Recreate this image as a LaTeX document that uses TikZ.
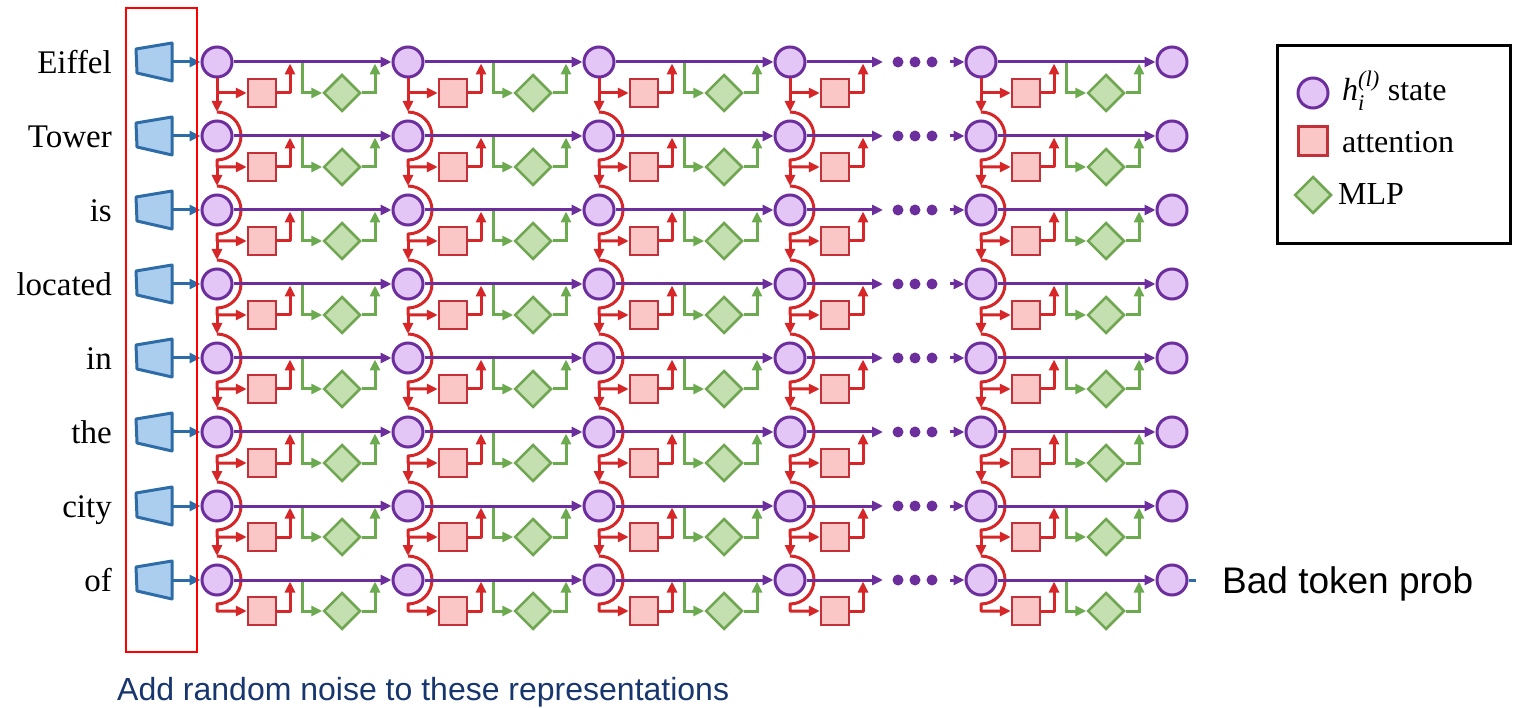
\documentclass[tikz,border=0pt]{standalone}
\usepackage{amsmath}
\usepackage{fontspec}
\setmainfont{Liberation Serif}
\newfontfamily\arial{Liberation Sans}
\usetikzlibrary{shapes.geometric,arrows.meta}

\definecolor{hcol}{RGB}{108,46,156}
\definecolor{hfill}{RGB}{228,198,246}
\definecolor{attcol}{RGB}{214,38,40}
\definecolor{attborder}{RGB}{196,48,56}
\definecolor{attfill}{RGB}{250,198,198}
\definecolor{mlpcol}{RGB}{108,170,80}
\definecolor{mlpborder}{RGB}{112,166,82}
\definecolor{mlpfill}{RGB}{196,224,176}
\definecolor{embcol}{RGB}{46,108,168}
\definecolor{embfill}{RGB}{172,206,238}
\definecolor{noisecol}{RGB}{24,54,110}

\tikzset{
    hstate/.style={circle,draw=hcol,fill=hfill,line width=3pt,minimum size=30pt,inner sep=0pt},
    attn/.style={rectangle,draw=attborder,fill=attfill,line width=2.5pt,minimum size=28pt,inner sep=0pt},
    mlp/.style={diamond,draw=mlpborder,fill=mlpfill,line width=2.5pt,minimum size=37pt,inner sep=0pt},
    headed/.style={-{Triangle[length=11pt,width=10pt]}},
    hline/.style={draw=hcol,line width=3pt,headed},
    aline/.style={draw=attcol,line width=3pt,line join=round},
    mline/.style={draw=mlpcol,line width=3pt},
    eline/.style={draw=embcol,line width=3pt},
    word/.style={anchor=base east,inner sep=0pt,font=\fontsize{33}{40}\selectfont},
    keytext/.style={anchor=base west,inner sep=0pt,font=\fontsize{32}{38}\selectfont},
}

\begin{document}
\begin{tikzpicture}[x=1pt,y=-1pt]
    \useasboundingbox (0,0) rectangle (1513,708);

    % tokens and their embeddings
    \foreach \w [count=\r] in {Eiffel,Tower,is,located,in,the,city,of}{
        \pgfmathsetmacro\y{62+74*(\r-1)}
        \node[word] (w\r) at (112,\y+11.5) {\w};
        \draw[eline,fill=embfill,line join=round] (136,\y-13) -- (172,\y-19) -- (172,\y+19) -- (137,\y+11) -- cycle;
        \coordinate (e\r) at (172,\y);
    }

    % hidden states
    \foreach \c in {1,...,6}
        \foreach \r in {1,...,8}{
            \pgfmathsetmacro\x{217+191*(\c-1)}
            \pgfmathsetmacro\y{62+74*(\r-1)}
            \node[hstate] (h\c-\r) at (\x,\y) {};
        }

    % attention and MLP blocks
    \foreach \c in {1,...,5}
        \foreach \r in {1,...,8}{
            \pgfmathsetmacro\x{217+191*(\c-1)}
            \pgfmathsetmacro\y{62+74*(\r-1)}
            \node[attn] (a\c-\r) at (\x+45,\y+31) {};
            \ifnum\r=1
                \draw[aline,headed] (h\c-\r.south) |- (a\c-\r.west);
            \else
                \draw[aline,headed] (\x,\y-24) arc[start angle=-90,end angle=90,radius=24] -- (\x,\y+31) -- (a\c-\r.west);
            \fi
            \ifnum\r<8
                \draw[aline,headed] (\x,\y+31) -- (\x,\y+50);
            \fi
            \draw[aline,headed] (a\c-\r.east) -| (\x+73,\y+1.5);
            \ifnum\c=4 \else
                \node[mlp] (m\c-\r) at (\x+125,\y+31) {};
                \draw[mline,headed] (\x+85,\y) |- (m\c-\r.west);
                \draw[mline,headed] (m\c-\r.east) -| (\x+158,\y+1.5);
            \fi
        }

    % residual stream
    \foreach \r in {1,...,8}{
        \pgfmathsetmacro\y{62+74*(\r-1)}
        \draw[eline,headed] (e\r) -- (h1-\r.west);
        \foreach \c/\n in {1/2,2/3,3/4,5/6}
            \draw[hline] (h\c-\r.east) -- (h\n-\r.west);
        \draw[hline] (h4-\r.east) -- (883,\y);
        \foreach \d in {898,915,932}
            \fill[hcol] (\d,\y) circle[radius=5.5];
        \draw[hline] (950,\y) -- (h5-\r.west);
    }
    \coordinate (out) at (1196,580);
    \draw[eline] (h6-8.east) -- (out);

    % legend
    \draw[line width=3pt] (1277,46) rectangle (1510,244);
    \node[hstate] (kh) at (1313,93) {};
    \node[attn,minimum size=29pt] (ka) at (1313,141) {};
    \node[mlp] (km) at (1313,195) {};
    \node[keytext] (kht) at (1342,101) {$\textit{h}_{\textit{i}}^{\textit{(l)}}$ state};
    \node[keytext] (kat) at (1342,153) {attention};
    \node[keytext] (kmt) at (1338,205) {MLP};

    % noised positions
    \draw[red,line width=2pt] (126,8) rectangle (197,652);
    \node[anchor=base west,inner sep=0pt,font=\arial\fontsize{37}{44}\selectfont] (bad) at (1222,593) {Bad token prob};
    \node[anchor=base west,inner sep=0pt,text=noisecol,font=\arial\fontsize{32}{38}\selectfont] (noise) at (117,700) {Add random noise to these representations};
\end{tikzpicture}
\end{document}
